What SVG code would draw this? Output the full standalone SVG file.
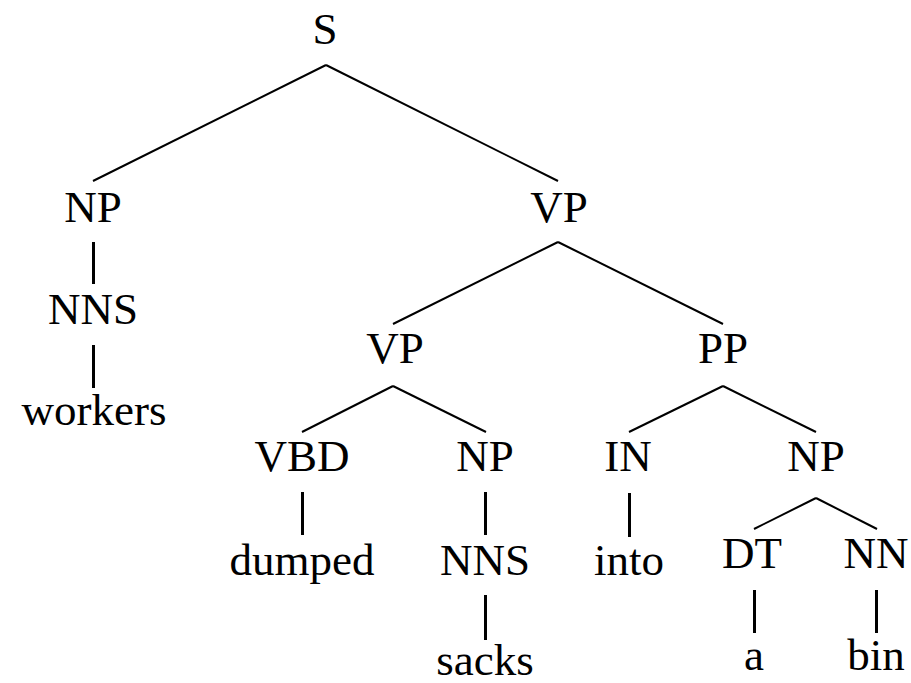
<svg xmlns="http://www.w3.org/2000/svg" width="911" height="683" viewBox="0 0 911 683">
<style>
text{font-family:"Liberation Serif","Times New Roman",serif;font-size:45px;fill:#000;text-anchor:middle}
line{stroke:#000;stroke-width:2;stroke-linecap:butt}
line.v{stroke-width:3}
</style>
<rect width="911" height="683" fill="#fff"/>
<g id="connectors">
<line x1="326" y1="65" x2="93" y2="181"/>
<line x1="326" y1="65" x2="558" y2="181"/>
<line class="v" x1="93.5" y1="242" x2="93.5" y2="284"/>
<line class="v" x1="93.5" y1="345" x2="93.5" y2="388"/>
<line x1="558" y1="242" x2="393" y2="324"/>
<line x1="558" y1="242" x2="723" y2="324"/>
<line x1="393" y1="386" x2="302" y2="432"/>
<line x1="393" y1="386" x2="486" y2="432"/>
<line x1="723" y1="386" x2="629" y2="432"/>
<line x1="723" y1="386" x2="816" y2="432"/>
<line class="v" x1="302.5" y1="492" x2="302.5" y2="535"/>
<line class="v" x1="485.5" y1="492" x2="485.5" y2="535"/>
<line class="v" x1="485.5" y1="595" x2="485.5" y2="640"/>
<line class="v" x1="629.5" y1="493" x2="629.5" y2="537"/>
<line x1="816" y1="498" x2="754" y2="529"/>
<line x1="816" y1="498" x2="877" y2="529"/>
<line class="v" x1="754.5" y1="590" x2="754.5" y2="633"/>
<line class="v" x1="876.5" y1="590" x2="876.5" y2="633"/>
</g>
<g id="n_S"><text x="325" y="44">S</text></g>
<g id="n_NP1"><text x="93" y="222">NP</text></g>
<g id="n_VP1"><text x="559" y="222">VP</text></g>
<g id="n_NNS1"><text x="93" y="324">NNS</text></g>
<g id="n_workers"><text x="94" y="425">workers</text></g>
<g id="n_VP2"><text x="395" y="363">VP</text></g>
<g id="n_PP"><text x="723" y="363">PP</text></g>
<g id="n_VBD"><text x="302" y="471">VBD</text></g>
<g id="n_NP2"><text x="485" y="471">NP</text></g>
<g id="n_IN"><text x="628" y="471">IN</text></g>
<g id="n_NP3"><text x="816" y="471">NP</text></g>
<g id="n_dumped"><text x="302" y="575">dumped</text></g>
<g id="n_NNS2"><text x="485" y="575">NNS</text></g>
<g id="n_into"><text x="629" y="575">into</text></g>
<g id="n_DT"><text x="752" y="568">DT</text></g>
<g id="n_NN"><text x="876" y="568">NN</text></g>
<g id="n_sacks"><text x="485" y="675">sacks</text></g>
<g id="n_a"><text x="754" y="670">a</text></g>
<g id="n_bin"><text x="876" y="670">bin</text></g>
</svg>
